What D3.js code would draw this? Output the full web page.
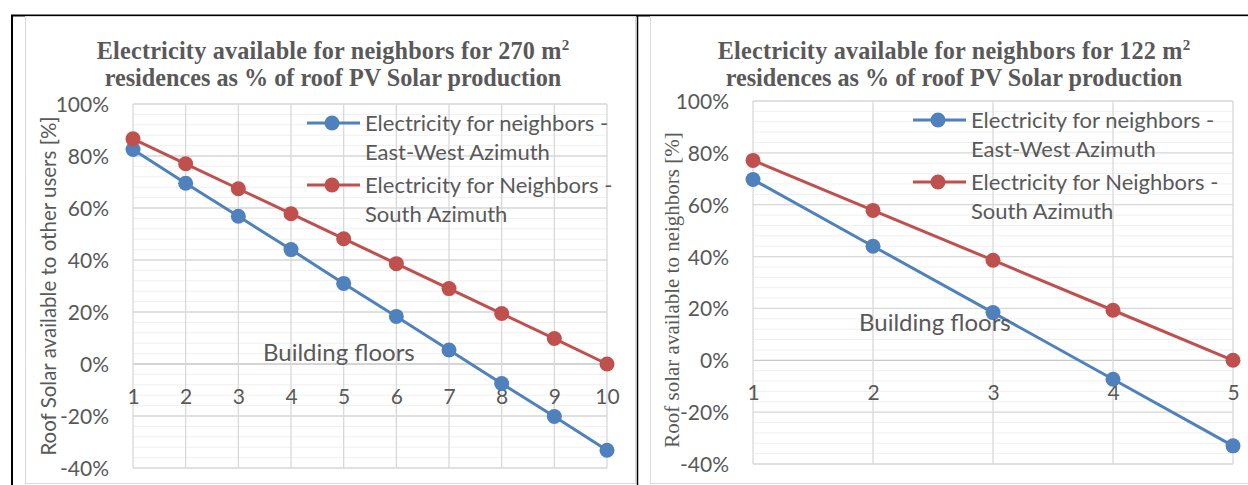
<!DOCTYPE html>
<html lang="en">
<head>
<meta charset="UTF-8">
<title>Electricity available for neighbors</title>
<script src="https://cdn.jsdelivr.net/npm/d3@7"></script>
<style>
body { margin: 0; background: #fff; }
svg text { fill: #595959; }
</style>
</head>
<body>
<script>
// 270 m2 residences, floors 1..10
let floorsLarge = [1, 2, 3, 4, 5, 6, 7, 8, 9, 10];
let eastWestLarge = [82.5, 69.5, 56.8, 44.0, 31.0, 18.3, 5.4, -7.5, -20.2, -33.2];
let southLarge = [86.6, 77.0, 67.4, 57.8, 48.2, 38.6, 29.0, 19.4, 9.8, 0];

// 122 m2 residences, floors 1..5
let floorsSmall = [1, 2, 3, 4, 5];
let eastWestSmall = [69.7, 44.0, 18.4, -7.3, -33.0];
let southSmall = [77.1, 57.8, 38.6, 19.3, 0];

let yTicks = [-40, -20, 0, 20, 40, 60, 80, 100];
let legendLines = [
  ['Electricity for neighbors -', 'East-West Azimuth'],
  ['Electricity for Neighbors -', 'South Azimuth']
];
let colors = ['#4F81BD', '#C0504D'];

let width = 1248;
let height = 485;
let sans = 'Lato, Carlito, Calibri, sans-serif';
let serif = '"Liberation Serif", "Times New Roman", serif';

let svg = d3.select('body')
  .append('svg')
  .attr('width', width)
  .attr('height', height);

// table borders
svg.append('line').attr('x1', 11).attr('x2', width).attr('y1', 15.5).attr('y2', 15.5)
  .attr('stroke', '#000').attr('stroke-width', 2);
svg.append('line').attr('x1', 12).attr('x2', 12).attr('y1', 15).attr('y2', height)
  .attr('stroke', '#000').attr('stroke-width', 2);
svg.append('line').attr('x1', 637.5).attr('x2', 637.5).attr('y1', 15).attr('y2', height)
  .attr('stroke', '#000').attr('stroke-width', 1.5);

function drawChart(c) {
  let g = svg.append('g');

  g.append('rect')
    .attr('x', c.frame[0]).attr('y', c.frame[1])
    .attr('width', c.frame[2]).attr('height', c.frame[3])
    .attr('fill', '#fff').attr('stroke', '#D9D9D9');

  let x = d3.scaleLinear()
    .domain(d3.extent(c.floors))
    .range([c.left, c.right]);
  let y = d3.scaleLinear()
    .domain([d3.min(yTicks), d3.max(yTicks)])
    .range([c.bottom, c.top]);

  // minor grid every 4%
  g.append('g')
    .selectAll('line')
    .data(d3.range(-40, 101, 4))
    .join('line')
    .attr('x1', c.left).attr('x2', c.right)
    .attr('y1', d => y(d)).attr('y2', d => y(d))
    .attr('stroke', '#F0F0F0').attr('stroke-width', 1);

  // major grid
  g.append('g')
    .selectAll('line')
    .data(yTicks)
    .join('line')
    .attr('x1', c.left).attr('x2', c.right)
    .attr('y1', d => y(d)).attr('y2', d => y(d))
    .attr('stroke', d => d === 0 ? '#C8C8C8' : '#D9D9D9').attr('stroke-width', 1.3);

  g.append('g')
    .selectAll('line')
    .data(c.floors)
    .join('line')
    .attr('x1', d => x(d)).attr('x2', d => x(d))
    .attr('y1', c.top).attr('y2', c.bottom)
    .attr('stroke', '#D9D9D9').attr('stroke-width', 1.3);

  // y axis labels
  let yAxis = d3.axisLeft(y)
    .tickValues(yTicks)
    .tickSize(0)
    .tickPadding(0)
    .tickFormat(d => d + '%');
  let ya = g.append('g')
    .attr('transform', 'translate(' + c.yLabelX + ',0)')
    .call(yAxis);
  ya.select('.domain').remove();
  ya.selectAll('text')
    .attr('font-family', sans).attr('font-size', 21)
    .attr('dy', '0.36em');

  // x axis labels, hanging below the 0% line
  let xAxis = d3.axisBottom(x)
    .tickValues(c.floors)
    .tickSize(0)
    .tickPadding(0)
    .tickFormat(d3.format('d'));
  let xa = g.append('g')
    .attr('transform', 'translate(0,' + c.xLabelY + ')')
    .call(xAxis);
  xa.select('.domain').remove();
  xa.selectAll('text')
    .attr('font-family', sans).attr('font-size', 21)
    .attr('dy', '0.36em');

  // series
  let line = d3.line()
    .x((d, i) => x(c.floors[i]))
    .y(d => y(d));
  c.series.forEach((s, k) => {
    g.append('path')
      .datum(s)
      .attr('d', line)
      .attr('fill', 'none')
      .attr('stroke', colors[k])
      .attr('stroke-width', 3);
    g.append('g')
      .selectAll('circle')
      .data(s)
      .join('circle')
      .attr('cx', (d, i) => x(c.floors[i]))
      .attr('cy', d => y(d))
      .attr('r', 7.5)
      .attr('fill', colors[k]);
  });

  // title
  let title = g.append('text')
    .attr('font-family', serif)
    .attr('font-weight', 'bold')
    .attr('font-size', 24.2)
    .attr('text-anchor', 'middle');
  title.append('tspan')
    .attr('x', c.titleX).attr('y', c.titleY)
    .attr('letter-spacing', 0.2)
    .text(c.title[0]);
  title.append('tspan')
    .attr('font-size', 15).attr('dy', -9)
    .text('2');
  title.append('tspan')
    .attr('x', c.titleX).attr('y', c.titleY + 27)
    .text(c.title[1]);

  // axis titles
  g.append('text')
    .attr('x', c.xTitle[0]).attr('y', c.xTitle[1])
    .attr('font-family', sans).attr('font-size', 24)
    .text('Building floors');

  g.append('text')
    .attr('transform', 'translate(' + c.yTitle[0] + ',' + c.yTitle[1] + ') rotate(-90)')
    .attr('text-anchor', 'middle')
    .attr('font-family', c.yTitleFont)
    .attr('font-size', c.yTitleSize)
    .text(c.yTitleText);

  // legend
  c.legendY.forEach((ly, k) => {
    let lg = g.append('g');
    lg.append('line')
      .attr('x1', c.legendX - 25).attr('x2', c.legendX + 28)
      .attr('y1', ly).attr('y2', ly)
      .attr('stroke', colors[k]).attr('stroke-width', 3);
    lg.append('circle')
      .attr('cx', c.legendX).attr('cy', ly).attr('r', 7.5)
      .attr('fill', colors[k]);
    legendLines[k].forEach((t, j) => {
      lg.append('text')
        .attr('x', c.legendX + 33)
        .attr('y', ly + 7.5 + j * 29)
        .attr('font-family', sans).attr('font-size', 22)
        .text(t);
    });
  });
}

drawChart({
  frame: [25.5, 16.5, 610, 467],
  floors: floorsLarge,
  series: [eastWestLarge, southLarge],
  left: 133, right: 607, top: 104, bottom: 468,
  yLabelX: 109, xLabelY: 396,
  title: ['Electricity available for neighbors for 270 m', 'residences as % of roof PV Solar production'],
  titleX: 333, titleY: 59,
  xTitle: [263, 361],
  yTitle: [56, 286],
  yTitleFont: sans,
  yTitleSize: 20.5,
  yTitleText: 'Roof Solar available to other users [%]',
  legendX: 332, legendY: [123, 185]
});

drawChart({
  frame: [650.5, 16.5, 620, 467],
  floors: floorsSmall,
  series: [eastWestSmall, southSmall],
  left: 753, right: 1233, top: 101, bottom: 464,
  yLabelX: 729, xLabelY: 392,
  title: ['Electricity available for neighbors for 122 m', 'residences as % of roof PV Solar production'],
  titleX: 954, titleY: 59,
  xTitle: [859, 331],
  yTitle: [679, 290],
  yTitleFont: serif,
  yTitleSize: 21,
  yTitleText: 'Roof solar available to neighbors [%]',
  legendX: 938, legendY: [120, 182]
});
</script>
</body>
</html>
